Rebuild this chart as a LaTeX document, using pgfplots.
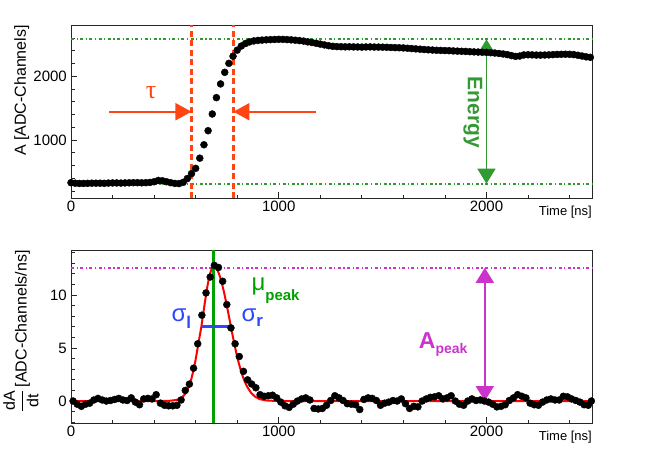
\documentclass[border=0pt]{standalone}
\usepackage{fontspec}
\setmainfont{Liberation Sans}
\newfontfamily\symfont{Liberation Serif}
\usepackage{pgfplots}
\pgfplotsset{compat=1.18}
\usepackage{pgfplotstable}
\usetikzlibrary{arrows.meta}
\definecolor{egreen}{RGB}{51,153,51}
\definecolor{tred}{RGB}{255,69,20}
\definecolor{vgreen}{RGB}{0,160,0}
\definecolor{pmag}{RGB}{204,51,204}
\definecolor{sblue}{RGB}{45,70,255}

\pgfplotstableread{
t A
0 330
20 322
40 318
60 318
80 320
100 322
120 322
140 322
160 320
180 324
200 326
220 326
240 324
260 326
280 328
300 330
320 330
340 328
360 330
380 334
400 345
420 365
440 360
460 345
480 330
500 318
520 316
540 335
560 395
580 472
600 555
620 715
640 925
660 1146
680 1408
700 1665
720 1880
740 2062
760 2203
780 2315
800 2410
820 2475
840 2515
860 2540
880 2555
900 2563
920 2568
940 2572
960 2575
980 2578
1000 2580
1020 2579
1040 2576
1060 2572
1080 2566
1100 2560
1120 2552
1140 2540
1160 2530
1180 2518
1200 2505
1220 2492
1240 2480
1260 2470
1280 2466
1300 2464
1320 2462
1340 2463
1360 2461
1380 2460
1400 2458
1420 2460
1440 2461
1460 2459
1480 2458
1500 2457
1520 2455
1540 2452
1560 2450
1580 2448
1600 2445
1620 2440
1640 2435
1660 2430
1680 2425
1700 2420
1720 2416
1740 2412
1760 2408
1780 2406
1800 2404
1820 2402
1840 2398
1860 2395
1880 2392
1900 2390
1920 2386
1940 2383
1960 2380
1980 2377
2000 2375
2020 2370
2040 2365
2060 2358
2080 2350
2100 2340
2120 2325
2140 2312
2160 2318
2180 2335
2200 2338
2220 2336
2240 2333
2260 2332
2280 2334
2300 2336
2320 2340
2340 2343
2360 2345
2380 2346
2400 2345
2420 2340
2440 2330
2460 2318
2480 2305
2500 2298
}\topdata

\pgfplotstableread{
t D
10 0.0
30 -0.3
50 -0.5
70 -0.3
90 -0.2
110 0.1
130 0.25
150 0.1
170 0.0
190 0.05
210 0.15
230 0.25
250 0.1
270 0.05
290 0.3
310 -0.1
330 -0.35
350 0.2
370 0.25
390 0.2
410 0.6
430 -0.2
450 -0.4
470 -0.45
490 -0.45
510 -0.4
530 0.1
550 1.0
570 1.6
590 3.1
610 5.4
630 8.1
650 10.2
670 11.7
690 12.8
710 12.6
730 11.3
750 9.1
770 6.9
790 5.4
810 4.2
830 2.8
850 2.0
870 1.6
890 1.25
910 0.6
930 0.45
950 0.5
970 0.55
990 0.3
1010 -0.1
1030 -0.45
1050 -0.6
1070 -0.3
1090 0.0
1110 0.2
1130 0.3
1150 0.1
1170 -0.7
1190 -0.75
1210 -0.7
1230 -0.4
1250 0.05
1270 0.5
1290 0.3
1310 0.05
1330 -0.25
1350 -0.3
1370 -0.35
1390 -0.8
1410 0.15
1430 0.3
1450 0.25
1470 0.05
1490 -0.4
1510 -0.2
1530 -0.1
1550 0.05
1570 0.0
1590 0.2
1610 -0.25
1630 -0.7
1650 -0.5
1670 -0.55
1690 0.0
1710 0.2
1730 0.35
1750 0.4
1770 0.5
1790 0.2
1810 0.3
1830 0.5
1850 0.0
1870 -0.3
1890 -0.4
1910 0.0
1930 0.2
1950 0.05
1970 0.1
1990 0.0
2010 -0.1
2030 -0.3
2050 -0.55
2070 -0.5
2090 -0.35
2110 0.05
2130 0.3
2150 0.6
2170 0.45
2190 0.3
2210 -0.2
2230 -0.35
2250 -0.4
2270 -0.1
2290 0.1
2310 0.2
2330 0.1
2350 0.1
2370 0.45
2390 0.4
2410 0.2
2430 0.05
2450 -0.1
2470 -0.35
2490 -0.4
2505 0.0
}\derdata

\pgfplotstableread{
t F
0 0
400 0
467 0.01
487 0.05
507 0.1
527 0.25
537 0.4
547 0.6
557 0.9
567 1.35
577 1.9
587 2.7
597 3.6
607 4.7
617 5.85
627 6.95
637 8.3
647 9.65
657 10.88
667 11.86
677 12.48
687 12.7
697 12.59
707 12.27
717 11.75
727 11.06
737 10.23
747 9.31
757 8.32
767 7.30
777 6.30
787 5.33
797 4.43
807 3.63
817 2.92
827 2.31
837 1.81
847 1.38
867 0.77
887 0.40
907 0.19
937 0.06
987 0.005
1100 0
2508 0
}\fitdata

\pgfplotsset{
  rootax/.style={
    scale only axis, width=521pt, height=173.3pt,
    xmin=0, xmax=2508,
    xtick={0,1000,2000},
    minor xtick={200,400,600,800,1200,1400,1600,1800,2200,2400},
    tick pos=left, tick align=inside,
    major tick length=6pt, minor tick length=3.5pt,
    axis line style={line width=0.8pt, black!85},
    every tick/.style={line width=0.8pt, black!85},
    ticklabel style={font=\fontsize{15}{15}\selectfont},
    /pgf/number format/assume math mode=true,
    /pgf/number format/1000 sep={},
    scaled ticks=false,
    xticklabel style={anchor=north, inner sep=0pt, yshift=-2.5pt},
    yticklabel style={anchor=east, inner sep=0pt, xshift=-4pt},
    clip=false,
  },
  dots/.style={only marks, mark=*, mark size=3.5pt, mark options={fill=black, draw=black}},
  dashdot/.style={line width=2.2pt, dash pattern=on 3pt off 2.5pt on 1.2pt off 2.5pt},
}

\begin{document}
\begin{tikzpicture}[x=1pt,y=1pt]
\path[use as bounding box] (0,0) rectangle (664,450);

% ---------------- top panel ----------------
\begin{axis}[rootax, at={(71pt,251.7pt)}, anchor=south west,
  ymin=85, ymax=2805,
  ytick={1000,2000},
  minor ytick={200,400,600,800,1200,1400,1600,1800,2200,2400,2600,2800}]
\addplot[dots] table[x=t,y=A] {\topdata};
% energy levels
\addplot[egreen, dashdot] coordinates {(0,2581) (2508,2581)};
\addplot[egreen, dashdot] coordinates {(0,314) (2508,314)};
% rise time
\addplot[tred, line width=2.8pt, dash pattern=on 6pt off 3.5pt] coordinates {(580,85) (580,2805)};
\addplot[tred, line width=2.8pt, dash pattern=on 6pt off 3.5pt] coordinates {(782,85) (782,2805)};
\addplot[tred, line width=2pt, -{Triangle[length=16pt,width=17pt]}] coordinates {(184,1444) (580,1444)};
\addplot[tred, line width=2pt, -{Triangle[length=16pt,width=17pt]}] coordinates {(1180,1444) (782,1444)};
\node[text=tred, font=\symfont\fontsize{26}{26}\selectfont] at (axis cs:385,1738) {τ};
% energy arrow
\addplot[egreen, line width=1.6pt, {Triangle[length=15pt,width=18pt]}-{Triangle[length=15pt,width=18pt]}] coordinates {(2000,314) (2000,2581)};
\node[rotate=-90, text=egreen, font=\bfseries\fontsize{21}{21}\selectfont, inner sep=0pt] at (axis cs:1934,1432) {Energy};
\end{axis}

% ---------------- bottom panel ----------------
\begin{axis}[rootax, at={(71pt,26.7pt)}, anchor=south west,
  ymin=-2.1, ymax=14.25,
  ytick={0,5,10},
  minor ytick={-2,-1,1,2,3,4,6,7,8,9,11,12,13,14}]
\addplot[dots] table[x=t,y=D] {\derdata};
\addplot[pmag, dashdot] coordinates {(0,12.57) (2508,12.57)};
\addplot[red, line width=2pt, line join=round] table[x=t,y=F] {\fitdata};
\addplot[vgreen, line width=2.8pt] coordinates {(687,-2.1) (687,14.25)};
\addplot[sblue, line width=2.8pt] coordinates {(629,7.0) (773,7.0)};
\addplot[pmag, line width=2pt, {Triangle[length=15pt,width=18pt]}-{Triangle[length=15pt,width=18pt]}] coordinates {(1992,0) (1992,12.57)};
\node[anchor=base west, inner sep=0pt, text=sblue] at (axis cs:483,7.48)
  {\fontsize{24}{24}\selectfont σ\bfseries\fontsize{17}{17}\selectfont\raisebox{-6.5pt}{l}};
\node[anchor=base west, inner sep=0pt, text=sblue] at (axis cs:820,7.48)
  {\fontsize{24}{24}\selectfont σ\bfseries\fontsize{17}{17}\selectfont\raisebox{-5pt}{r}};
\node[anchor=base west, inner sep=0pt, text=vgreen] at (axis cs:868,10.47)
  {\fontsize{24}{24}\selectfont μ\bfseries\fontsize{15}{15}\selectfont\raisebox{-10.5pt}{peak}};
\node[anchor=base west, inner sep=0pt, text=pmag] at (axis cs:1674,4.97)
  {\bfseries\fontsize{23}{23}\selectfont A\fontsize{14}{14}\selectfont\raisebox{-5pt}{peak}};
\end{axis}

% ---------------- axis titles ----------------
\node[rotate=90, anchor=east, inner sep=0pt, font=\fontsize{16}{16}\selectfont] at (21.7,425) {A [ADC-Channels]};
\node[anchor=east, inner sep=0pt, font=\fontsize{13}{13}\selectfont] at (592,238.3) {Time [ns]};
\node[rotate=90, anchor=east, inner sep=0pt, font=\fontsize{16}{16}\selectfont] at (21,200)
  {$\displaystyle\frac{\mbox{dA}}{\mbox{dt}}$\,[ADC-Channels/ns]};
\node[anchor=east, inner sep=0pt, font=\fontsize{13}{13}\selectfont] at (592,13.3) {Time [ns]};
\end{tikzpicture}
\end{document}
